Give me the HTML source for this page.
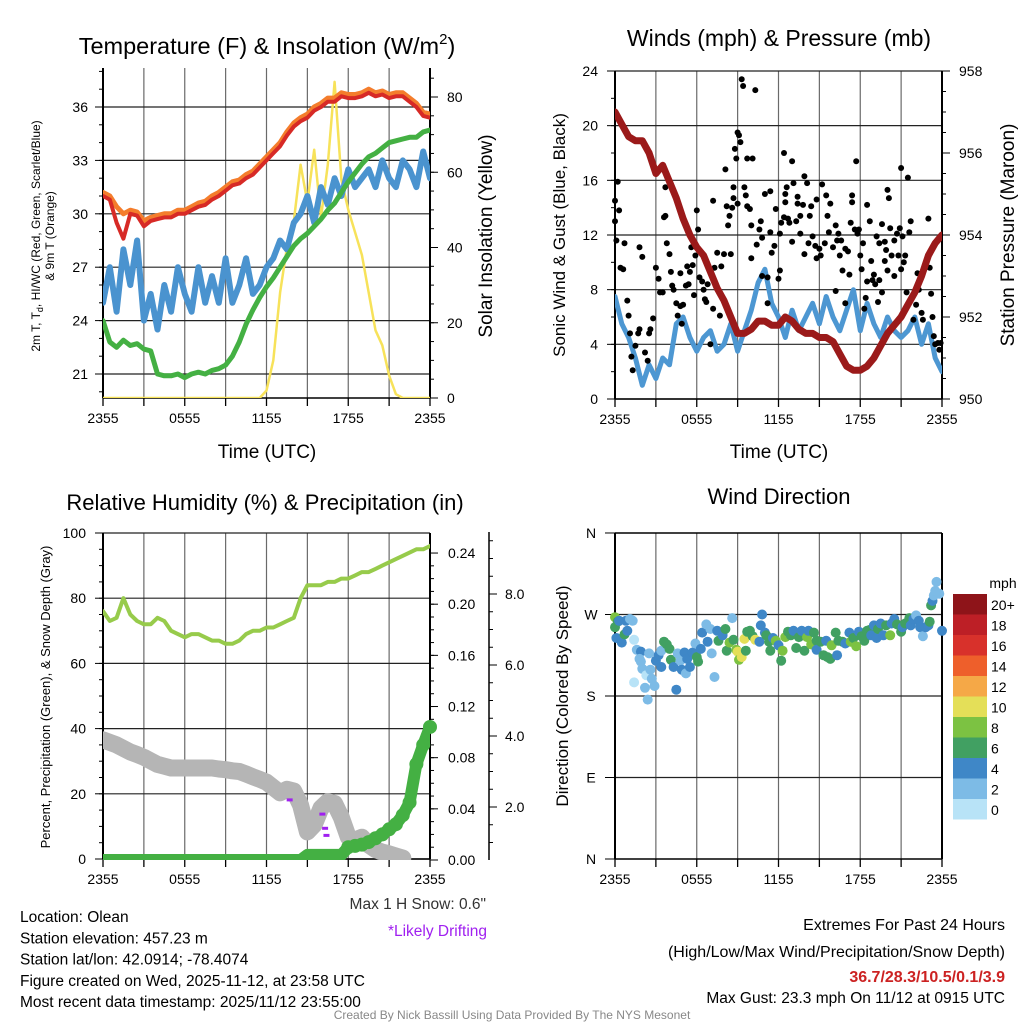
<!DOCTYPE html>
<html><head><meta charset="utf-8">
<style>
html,body{margin:0;padding:0;background:#fff;}
svg{display:block;font-family:"Liberation Sans",Arial,sans-serif;}
</style></head>
<body>
<svg id="chart" width="1024" height="1024" viewBox="0 0 1024 1024" xmlns="http://www.w3.org/2000/svg">
<defs>
<clipPath id="c1"><rect x="103" y="68" width="327" height="330"/></clipPath>
<clipPath id="c2"><rect x="615" y="71" width="327" height="328"/></clipPath>
<clipPath id="c3"><rect x="103" y="533" width="327" height="327"/></clipPath>
<clipPath id="c4"><rect x="615" y="533" width="327" height="326"/></clipPath>
</defs>
<text x="267" y="54" font-size="23.5" text-anchor="middle">Temperature (F) &amp; Insolation (W/m<tspan font-size="15" dy="-10">2</tspan><tspan dy="10">)</tspan></text>
<text x="40" y="236" font-size="12" text-anchor="middle" transform="rotate(-90 40 236)">2m T, T<tspan font-size="9" dy="3">d</tspan><tspan dy="-3">, HI/WC (Red, Green, Scarlet/Blue)</tspan></text>
<text x="54" y="236" font-size="12" text-anchor="middle" transform="rotate(-90 54 236)">&amp; 9m T (Orange)</text>
</svg>
<script>
// ---------- DATA (half-hourly, 0..24 h after 2355 UTC) ----------
const timeTicks = ["2355","0555","1155","1755","2355"];
const tempTicks = [21,24,27,30,33,36];
const insTicks = [0,20,40,60,80];
const windTicks = [0,4,8,12,16,20,24];
const presTicks = [950,952,954,956,958];
const rhTicks = [0,20,40,60,80,100];
const precipTicks = [0,0.04,0.08,0.12,0.16,0.20,0.24];
const snowTicks = [2,4,6,8];
const dirTicks = ["N","E","S","W","N"];
const speedBins = ["0","2","4","6","8","10","12","14","16","18","20+"];
const speedColors = ["#b8e3f7","#7dbbe6","#3f87c7","#41a062","#7cc242","#e4df58","#f5a847","#ee5f2b","#d8312b","#bd1f26","#8e1419"];

const tempRed = [31.0,30.8,29.5,28.6,30.0,29.9,29.3,29.6,29.7,29.8,29.8,30.0,30.0,30.2,30.4,30.5,30.8,31.0,31.3,31.6,31.7,32.0,32.2,32.6,33.0,33.4,33.8,34.4,34.9,35.2,35.4,35.8,36.0,36.3,36.3,36.6,36.5,36.5,36.6,36.8,36.6,36.7,36.5,36.6,36.6,36.3,36.0,35.5,35.4];
const temp9m = [31.2,31.0,30.4,30.0,30.2,30.1,29.6,29.8,29.9,30.0,30.0,30.2,30.2,30.4,30.6,30.7,31.0,31.2,31.5,31.8,31.9,32.2,32.4,32.8,33.2,33.6,34.0,34.6,35.1,35.4,35.6,36.0,36.2,36.5,36.5,36.8,36.7,36.7,36.8,37.0,36.8,36.9,36.7,36.8,36.8,36.5,36.2,35.7,35.6];
const dewGreen = [24.0,22.8,22.5,22.9,22.6,22.7,22.4,22.3,21.0,20.9,20.9,21.0,20.8,21.0,21.1,21.0,21.2,21.3,21.5,22.0,22.8,23.8,24.6,25.3,25.9,26.4,27.0,27.6,28.2,28.6,28.9,29.3,29.7,30.2,30.6,31.2,31.8,32.3,32.8,33.2,33.4,33.7,34.0,34.1,34.2,34.3,34.3,34.6,34.7];
const chillBlue = [25,27,24.5,28,26,28.5,24,25.5,23.5,26,24.5,27,25.5,24.5,27,25,26.5,25,27.5,25,26,27.5,25.5,26,27,27.5,28.5,28,29.5,30,31,29.5,31.5,30.5,32,31,32.5,31.5,32,32.5,31.5,33,32,31.5,33,32.5,31.5,33.5,32];
const insolation = [0,0,0,0,0,0,0,0,0,0,0,0,0,0,0,0,0,0,0,0,0,0,0,0,2,10,28,40,47,62,52,66,48,62,84,58,50,44,38,28,18,14,6,1,0,0,0,0,0];

const windBlue = [7.5,5.5,4.5,3,1,2.5,1.5,3,2.5,5.5,6,4.5,3.5,4.5,5,3.5,4,5.5,3.5,5,6.5,8.5,9.5,7,6,4.5,6.5,5,6,7,5.5,7.5,6,5,6.5,8,5,7,5.5,4.5,6,5,4.5,5,6,4,5.5,3,2];
const pressure = [957.0,956.7,956.4,956.3,956.3,956.0,955.5,955.7,955.3,954.9,954.4,954.0,953.7,953.5,953.1,952.7,952.4,952.0,951.6,951.6,951.7,951.9,951.9,951.8,951.8,952.0,951.9,951.7,951.6,951.6,951.5,951.5,951.4,951.1,950.8,950.7,950.7,950.8,951.0,951.3,951.6,951.8,952.0,952.3,952.6,953.0,953.5,953.8,954.0];
const gustHours = [0,0,0.1,0.2,0.3,0.4,0.6,0.7,0.9,1.0,1.1,1.2,1.3,1.5,1.7,1.8,2.0,1.8,2.2,2.4,2.5,2.6,2.8,3.0,3.2,3.3,3.5,3.6,3.7,3.7,3.8,4.0,4.1,4.2,4.3,4.5,4.6,4.8,4.9,4.8,5.0,5.2,5.3,5.4,5.5,5.6,5.7,5.8,5.9,6.0,6.1,6.2,6.4,6.5,6.6,6.7,6.8,7.0,7.2,7.2,7.3,7.5,7.7,7.8,8.0,8.1,8.2,8.3,8.4,8.5,8.6,8.7,8.7,8.8,8.9,9.0,9.0,9.1,9.2,9.3,9.4,9.5,9.6,9.7,9.7,9.9,10.0,10.1,10.0,10.3,10.4,10.6,10.7,10.8,10.8,11.0,11.2,11.2,11.4,11.4,11.5,11.7,11.8,12.0,12.1,12.1,12.2,12.4,12.4,12.5,12.5,12.6,12.7,12.8,13.0,13.0,13.1,13.3,13.4,13.4,13.6,13.6,13.8,13.9,13.9,14.1,14.2,14.3,14.4,14.5,14.7,14.8,14.8,15.0,15.1,15.2,15.4,15.5,15.6,15.7,15.8,16.0,16.2,16.2,16.3,16.4,16.5,16.6,16.7,16.9,16.9,17.1,17.2,17.3,17.4,17.4,17.6,17.7,17.8,17.9,18.0,18.1,18.2,18.3,18.4,18.5,18.5,18.7,18.8,18.9,19.0,19.1,19.2,19.3,19.4,19.4,19.6,19.6,19.8,19.8,19.9,20.0,20.0,20.1,20.2,20.3,20.5,20.5,20.7,20.8,20.9,21.0,21.0,21.1,21.2,21.3,21.4,21.5,21.6,21.7,21.8,21.9,22.1,22.2,22.3,22.5,22.6,22.9,23.0,23.1,23.2,23.3,23.4,23.5,23.7,23.8,23.9];
const gustMph = [14.5,13,11.6,15.9,13.8,9.6,9.5,11.4,7.2,6.1,4.8,3.1,2.1,3.9,4.8,11.1,10.4,5.1,3.4,2.8,4.8,5.1,5.9,9.6,8.8,7.8,7.8,13.3,13.4,15.5,11.4,10.6,9.3,8.3,8.0,7.0,6.1,6.8,5.5,9.2,6.9,8.3,9.7,8.4,9.3,11.1,9.8,7.6,10.5,13.8,12.4,8.9,8.6,8.0,7.3,7.1,8.4,4.0,6.6,14.5,9.6,10.7,6.1,9.7,10.6,16.8,14.1,12.7,13.4,10.6,14.0,14.7,15.5,18.3,17.6,19.5,14.3,19.3,18.8,23.4,22.9,15.5,14.9,17.6,14.1,13.9,12.7,17.6,10.3,22.6,11.3,12.4,13.0,11.8,9.0,15.0,8.9,7.0,15.2,12.2,10.7,11.2,13.9,8.8,9.4,12.1,12.9,13.3,18.0,15.0,14.4,15.5,13.2,12.9,11.5,17.4,15.8,13.0,14.8,14.3,13.4,12.1,14.2,10.6,16.3,15.8,11.4,13.4,14.1,11.9,11.2,10.3,14.6,11.0,10.5,15.7,11.4,14.9,13.4,12.2,14.3,11.1,12.7,7.9,11.6,12.1,10.5,11.6,9.4,7.0,11.0,10.8,9.1,12.9,14.4,14.9,12.4,17.4,12.1,12.4,10.5,9.5,11.4,6.6,7.4,8.6,14.2,13.0,10.1,8.7,9.1,8.4,11.9,7.1,11.4,8.7,7.8,12.8,10.1,11.5,10.9,9.4,15.3,14.7,12.5,10.5,9.0,11.6,12.1,10.5,12.5,9.5,16.9,11.9,10.0,10.5,7.8,16.2,12.2,13.0,7.5,5.8,6.9,9.2,8.0,6.3,5.8,10.2,13.2,9.6,7.7,6.0,4.6,4.0,4.1,3.6,4.1];

const rhGreen = [76,73,74,80,75,73,72,72,74,73,70,69,68,69,69,68,67,67,66,66,67,69,70,70,71,71,72,73,74,80,84,84,84,85,85,86,86,87,88,88,89,90,91,92,93,94,95,95,96];
const precipIn = [0,0,0,0,0,0,0,0,0,0,0,0,0,0,0,0,0,0,0,0,0,0,0,0,0,0,0,0,0,0,0.004,0.004,0.004,0.004,0.004,0.004,0.01,0.011,0.012,0.014,0.017,0.02,0.024,0.028,0.035,0.045,0.075,0.09,0.104];
const snowIn = [3.89,3.82,3.75,3.65,3.55,3.48,3.4,3.3,3.2,3.15,3.1,3.1,3.1,3.1,3.1,3.1,3.1,3.07,3.05,3.02,3.0,2.93,2.85,2.78,2.7,2.55,2.4,2.5,2.45,2.05,1.3,1.5,1.97,2.15,2.1,1.7,1.15,1.07,1.15,0.93,0.8,0.73,0.68,0.62,0.56];
const driftHours = [13.7,16.1,16.3,16.4];
const driftSnow = [2.2,1.8,1.4,1.2];

const dirHours = [0,0,0.2,0.3,0.1,0.5,0.7,0.8,0.9,1.1,1.3,1.4,1.6,1.9,1.8,2.0,1.9,2.3,2.5,2.6,2.7,2.9,1.4,2.2,2.4,3.0,3.2,3.4,3.4,3.6,3.8,4.0,4.1,4.3,4.5,4.6,4.8,4.9,5.1,5.2,5.3,5.5,5.7,5.9,6.0,6.1,6.3,6.4,6.7,6.8,7.0,7.1,7.3,7.5,7.6,7.9,8.1,8.2,8.4,8.6,8.7,8.9,9.0,9.1,9.3,9.5,9.6,9.7,9.9,10.1,10.3,10.6,10.7,10.8,11.0,11.1,11.3,11.4,11.6,11.8,12.0,12.2,12.3,12.5,12.7,12.9,13.1,13.3,13.5,13.7,13.9,14.1,14.2,14.4,14.6,14.8,14.8,15.1,15.3,15.5,15.6,15.8,15.9,16.2,16.3,16.4,16.7,16.9,17.2,17.3,17.5,17.7,17.9,18.1,18.3,18.5,18.7,18.8,19.0,19.2,19.3,19.5,19.7,19.9,20.2,20.3,20.5,20.7,21.0,21.1,21.3,21.6,21.7,21.9,22.1,22.3,22.4,22.6,22.8,23.0,23.1,23.2,23.3,23.4,23.5,23.6,23.8,24.0];
const dirDeg = [267,256,262,263,244,239,248,263,252,265,263,242,231,229,221,210,218,203,227,209,199,191,195,189,176,219,225,230,212,240,237,232,220,212,187,227,219,209,228,205,221,212,228,238,223,218,232,250,259,240,254,227,201,252,241,247,254,230,239,266,242,231,229,220,223,243,230,251,252,246,242,240,258,270,250,247,240,230,244,241,236,219,230,245,251,247,252,233,245,252,230,245,252,237,250,241,231,240,225,241,223,221,236,250,225,241,240,238,250,240,244,235,251,246,241,252,253,247,258,244,254,260,247,258,247,260,265,259,251,256,260,266,258,265,269,263,256,246,256,258,262,280,285,291,296,306,293,252];
const dirSpeed = [8,6,6,4,4,4,6,4,4,2,2,0,2,4,2,2,2,0,2,2,2,2,0,2,2,4,4,2,4,6,6,6,6,4,4,2,2,4,4,2,4,4,4,2,6,6,4,4,2,4,2,2,2,4,6,4,6,6,8,2,6,8,10,8,10,10,6,6,6,6,10,4,4,4,4,6,6,6,4,8,4,6,8,8,6,6,4,6,6,4,6,8,4,8,6,6,4,6,6,4,6,6,8,6,4,6,6,4,4,8,6,8,4,6,6,6,6,4,4,4,6,4,4,6,8,4,4,6,6,4,6,6,4,4,2,4,4,2,4,4,6,6,4,2,2,2,2,4];

// ---------- helpers ----------
const NS = "http://www.w3.org/2000/svg";
const svg = document.getElementById("chart");
function mk(tag, attrs, name, parent) {
  const e = document.createElementNS(NS, tag);
  for (const k in attrs) e.setAttribute(k, attrs[k]);
  
  
  (parent || svg).appendChild(e);
  return e;
}
function txt(x, y, s, name, o) {
  o = o || {};
  const t = mk("text", {x: x, y: y, "font-size": o.size || 14, fill: o.fill || "#000", "text-anchor": o.anchor || "middle", "font-weight": o.weight || "normal"}, name, o.parent);
  if (o.rot) t.setAttribute("transform", "rotate(" + o.rot + " " + x + " " + y + ")");
  t.textContent = s;
  return t;
}
function line(x1, y1, x2, y2, name, stroke, w, parent) {
  return mk("line", {x1: x1, y1: y1, x2: x2, y2: y2, stroke: stroke || "#000", "stroke-width": w || 1}, name, parent);
}
function poly(xs, ys, name, stroke, w, clip) {
  let d = "";
  for (let i = 0; i < xs.length; i++) d += (i ? "L" : "M") + xs[i].toFixed(1) + " " + ys[i].toFixed(1);
  return mk("path", {d: d, fill: "none", stroke: stroke, "stroke-width": w, "stroke-linejoin": "round", "stroke-linecap": "round", "clip-path": "url(#" + clip + ")"}, name);
}
const hrs = n => Array.from({length: n}, (_, i) => i * 0.5);

// ---------- scales ----------
const XL = h => 103 + h * 327 / 24;
const XR = h => 615 + h * 327 / 24;
const yTemp = t => 374 - (t - 21) * 17.8;
const yIns = v => 398 - v * 3.7625;
const yWind = m => 399 - m * 13.667;
const yPres = p => 399 - (p - 950) * 41;
const yRH = r => 859 - r * 3.26;
const yPrec = p => 860 - p * 1279;
const ySnow = s => Math.min(858, 878 - s * 35.5);
const yDir = d => 859 - d * 0.9056;

function frameAndTime(x0, y0, x1, y1, X, prefix, hGrid) {
  for (let h = 3; h < 24; h += 3) line(X(h), y0, X(h), y1, prefix + "-vgrid", "#6a6a6a", 1.2);
  hGrid.forEach(y => line(x0, y, x1, y, prefix + "-hgrid", "#222", 1.2));
  for (let h = 0; h <= 24; h += 3) line(X(h), y1, X(h), y1 + 8, prefix + "-x-tick", "#000", 1.3);
  timeTicks.forEach((s, i) => txt(X(i * 6), y1 + 25, s, prefix + "-x-tick-label"));
  line(x0, y0, x0, y1, prefix + "-left-axis", "#000", 2);
  line(x1, y0, x1, y1, prefix + "-right-axis", "#000", 2);
  line(x0, y1, x1, y1, prefix + "-bottom-axis", "#000", 1.5);
}

// ---------- Panel 1 ----------
frameAndTime(103, 68, 430, 398, XL, "temp", tempTicks.map(yTemp));
tempTicks.forEach(t => { line(95, yTemp(t), 103, yTemp(t), "temp-y-tick"); txt(88, yTemp(t) + 5, String(t), "temp-y-tick-label", {anchor: "end"}); });
for (let t = 20; t <= 38; t++) line(99, yTemp(t), 103, yTemp(t), "temp-y-minor-tick");
insTicks.forEach(v => { line(430, yIns(v), 438, yIns(v), "ins-y-tick"); txt(447, yIns(v) + 5, String(v), "ins-y-tick-label", {anchor: "start"}); });
for (let v = 0; v <= 85; v += 5) line(430, yIns(v), 434, yIns(v), "ins-y-minor-tick");
txt(267, 458, "Time (UTC)", "temp-x-title", {size: 19});
txt(492, 236, "Solar Insolation (Yellow)", "ins-y-title", {size: 19, rot: -90});
poly(hrs(49).map(XL), insolation.map(yIns), "insolation-line", "#f7e25a", 2.5, "c1");
poly(hrs(49).map(XL), chillBlue.map(yTemp), "windchill-line", "#4a93cf", 6, "c1");
poly(hrs(49).map(XL), dewGreen.map(yTemp), "dewpoint-line", "#44b043", 5, "c1");
poly(hrs(49).map(XL), temp9m.map(yTemp), "temp-9m-line", "#f47d2c", 5, "c1");
poly(hrs(49).map(XL), tempRed.map(yTemp), "temp-2m-line", "#d72a26", 4, "c1");

// ---------- Panel 2 ----------
txt(779, 46, "Winds (mph) & Pressure (mb)", "wind-title", {size: 23});
frameAndTime(615, 71, 942, 399, XR, "wind", windTicks.map(yWind));
windTicks.forEach(m => { line(607, yWind(m), 615, yWind(m), "wind-y-tick"); txt(598, yWind(m) + 5, String(m), "wind-y-tick-label", {anchor: "end"}); });
for (let m = 0; m <= 24; m += 2) line(611, yWind(m), 615, yWind(m), "wind-y-minor-tick");
presTicks.forEach(p => { line(942, yPres(p), 950, yPres(p), "pres-y-tick"); txt(959, yPres(p) + 5, String(p), "pres-y-tick-label", {anchor: "start"}); });
for (let p = 950; p <= 958; p += 0.5) line(942, yPres(p), 946, yPres(p), "pres-y-minor-tick");
txt(779, 458, "Time (UTC)", "wind-x-title", {size: 19});
txt(565, 235, "Sonic Wind & Gust (Blue, Black)", "wind-y-title", {size: 17, rot: -90});
txt(1014, 235, "Station Pressure (Maroon)", "pres-y-title", {size: 19, rot: -90});
poly(hrs(49).map(XR), windBlue.map(yWind), "wind-speed-line", "#4d97d2", 5, "c2");
gustHours.forEach((h, i) => {
  const c = mk("circle", {cx: XR(h).toFixed(1), cy: yWind(gustMph[i]).toFixed(1), r: 3, fill: "#000"}, "gust-dot");
});
poly(hrs(49).map(XR), pressure.map(yPres), "pressure-line", "#9b1a1a", 7, "c2");

// ---------- Panel 3 ----------
txt(265, 510, "Relative Humidity (%) & Precipitation (in)", "rh-title", {size: 22});
frameAndTime(103, 533, 430, 859, XL, "rh", rhTicks.map(yRH));
rhTicks.forEach(r => { line(95, yRH(r), 103, yRH(r), "rh-y-tick"); txt(86, yRH(r) + 5, String(r), "rh-y-tick-label", {anchor: "end"}); });
for (let r = 0; r <= 100; r += 5) line(99, yRH(r), 103, yRH(r), "rh-y-minor-tick");
precipTicks.forEach(p => { line(430, yPrec(p), 438, yPrec(p), "precip-y-tick"); txt(448, yPrec(p) + 5, p.toFixed(2), "precip-y-tick-label", {anchor: "start"}); });
for (let p = 0; p <= 0.24; p += 0.01) line(430, yPrec(p), 434, yPrec(p), "precip-y-minor-tick");
line(489, 532, 489, 860, "snow-axis", "#000", 1.5);
snowTicks.forEach(s => { line(489, 878 - s * 35.5, 497, 878 - s * 35.5, "snow-y-tick"); txt(505, 878 - s * 35.5 + 5, s.toFixed(1), "snow-y-tick-label", {anchor: "start"}); });
for (let s = 1; s <= 9.5; s += 0.5) line(489, 878 - s * 35.5, 493, 878 - s * 35.5, "snow-y-minor-tick");
txt(50, 697, "Percent, Precipitation (Green), & Snow Depth (Gray)", "rh-y-title", {size: 13, rot: -90});
poly(hrs(45).map(XL), snowIn.map(ySnow), "snow-depth-band", "#b5b5b5", 17, "c3");
driftHours.forEach((h, i) => {
  const d = mk("rect", {x: XL(h) - 3, y: ySnow(driftSnow[i]) - 1.5, width: 6, height: 3, fill: "#a020f0"}, "drifting-mark");
});
poly(hrs(49).map(XL), precipIn.map(yPrec), "precip-band", "#44b043", 12, "c3");
precipIn.forEach((p, i) => {
  if (p > 0.008) { const c = mk("circle", {cx: XL(i * 0.5), cy: yPrec(p), r: 7, fill: "#44b043"}, "precip-dot"); }
});
poly(hrs(49).map(XL), rhGreen.map(yRH), "rh-line", "#97cb4b", 4, "c3");

// ---------- Panel 4 ----------
txt(779, 504, "Wind Direction", "dir-title", {size: 22});
frameAndTime(615, 533, 942, 859, XR, "dir", [90, 180, 270].map(yDir));
line(615, 533, 942, 533, "dir-top-axis", "#000", 1.5);
dirTicks.forEach((s, i) => { line(605, yDir(i * 90), 615, yDir(i * 90), "dir-y-tick"); txt(591, yDir(i * 90) + 5, s, "dir-y-tick-label"); });
txt(568, 696, "Direction (Colored By Speed)", "dir-y-title", {size: 17, rot: -90});
dirHours.forEach((h, i) => {
  const b = Math.min(10, Math.round(dirSpeed[i] / 2));
  const c = mk("circle", {cx: XR(h).toFixed(1), cy: yDir(dirDeg[i]).toFixed(1), r: 5, fill: speedColors[b]}, "direction-dot");
});
txt(1003, 588, "mph", "colorbar-title", {size: 14});
speedBins.forEach((s, i) => {
  const j = speedBins.length - 1 - i;
  const y = 594 + j * 20.5;
  mk("rect", {x: 953, y: y, width: 34, height: 20.5, fill: speedColors[i]}, "colorbar-box");
  txt(991, y + 16, s, "colorbar-label", {anchor: "start"});
});

// ---------- Footer text ----------
const infoLines = ["Location: Olean", "Station elevation: 457.23 m", "Station lat/lon: 42.0914; -78.4074", "Figure created on Wed, 2025-11-12, at 23:58 UTC", "Most recent data timestamp: 2025/11/12 23:55:00"];
infoLines.forEach((s, i) => txt(20, 922 + i * 21.3, s, "station-info-line", {anchor: "start", size: 15.5}));
txt(486, 909, "Max 1 H Snow: 0.6\"", "max-snow-note", {anchor: "end", size: 15.5, fill: "#333"});
txt(487, 936, "*Likely Drifting", "drifting-note", {anchor: "end", size: 15.5, fill: "#a020f0"});
txt(1005, 930, "Extremes For Past 24 Hours", "extremes-title", {anchor: "end", size: 16});
txt(1005, 957, "(High/Low/Max Wind/Precipitation/Snow Depth)", "extremes-subtitle", {anchor: "end", size: 16});
txt(1005, 982, "36.7/28.3/10.5/0.1/3.9", "extremes-values", {anchor: "end", size: 16, weight: "bold", fill: "#cc2222"});
txt(1005, 1003, "Max Gust: 23.3 mph On 11/12 at 0915 UTC", "max-gust-note", {anchor: "end", size: 15.5});
txt(512, 1019, "Created By Nick Bassill Using Data Provided By The NYS Mesonet", "credit-footer", {size: 12, fill: "#888"});
</script>
</body></html>
